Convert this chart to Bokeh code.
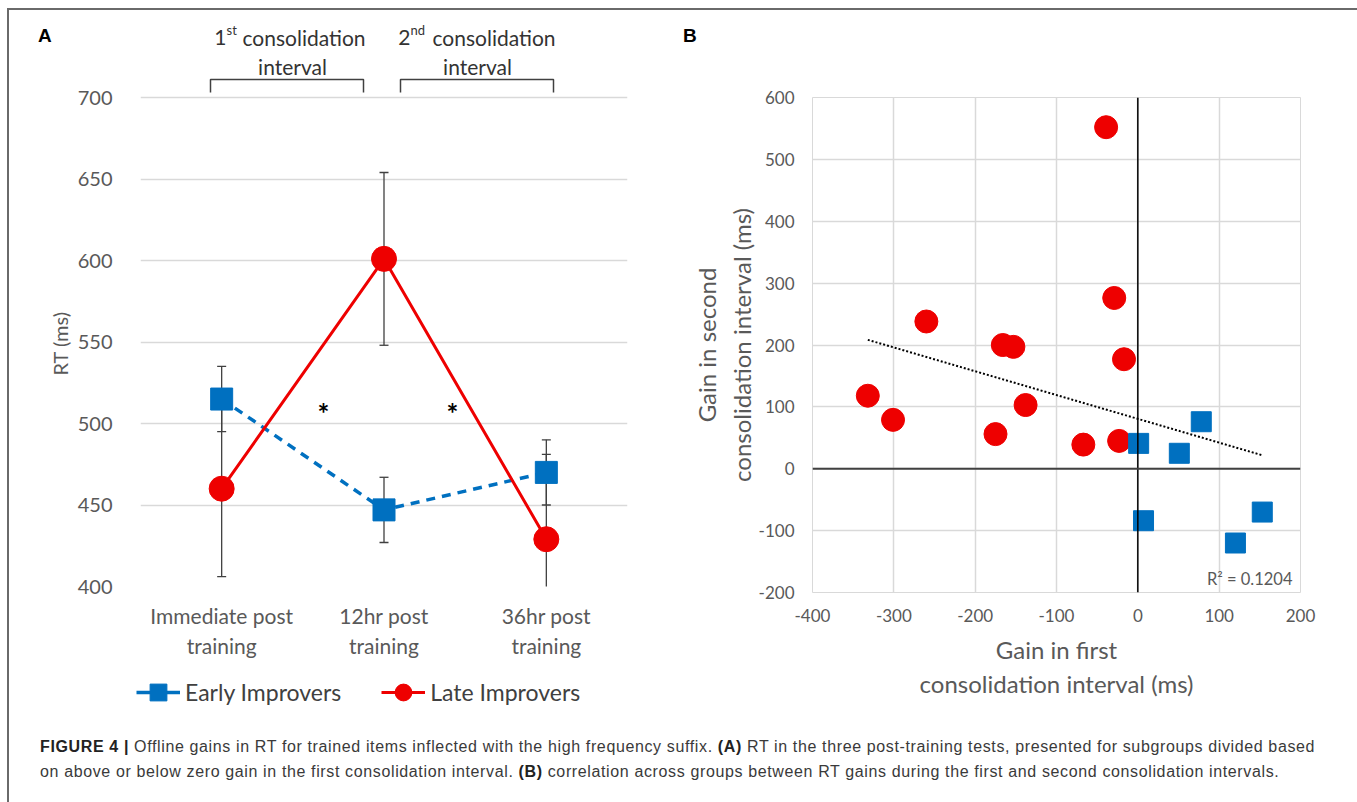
import numpy as np
from bokeh.plotting import figure
from bokeh.models import (Label, Span, Legend, LegendItem, FixedTicker, Range1d, Div, Title)
from bokeh.layouts import row, column
from bokeh.embed import file_html
from bokeh.resources import INLINE

# ---------------- Panel A data ----------------
sessions = ["Immediate post\ntraining", "12hr post\ntraining", "36hr post\ntraining"]
early_rt = [515, 447, 470]
early_err = [20, 20, 20]
late_rt = [460, 601, 429]
late_err = [54, 53, 52]
a_yticks = [400, 450, 500, 550, 600, 650, 700]
series_names = ["Early Improvers", "Late Improvers"]

# ---------------- Panel B data ----------------
late_gain1 = [-39, -29, -260, -166, -153, -17, -332, -301, -138, -175, -67, -23]
late_gain2 = [552, 276, 238, 200, 197, 177, 118, 79, 103, 56, 39, 45]
early_gain1 = [1, 51, 78, 7, 120, 153]
early_gain2 = [41, 25, 76, -84, -120, -70]
b_xticks = [-400, -300, -200, -100, 0, 100, 200]
b_yticks = [-200, -100, 0, 100, 200, 300, 400, 500, 600]
r2_text = "R² = 0.1204"

RED = "#ee0000"
BLUE = "#0070c0"
GRID = "#d9d9d9"
TXT = "#595959"
FONT = "Lato"

# page geometry (image px): container inner area starts at (9, 10)
OX, OY = 9, 10

# ================= Panel A =================
WA, HA = 672, 695
LA, RA, TA, BA = 131, 54, 10, 119
fw_a = WA - LA - RA
fh_a = HA - TA - BA
A_FL = OX + LA            # frame left in image px
A_FB = OY + HA - BA       # frame bottom in image px
a_pxu = 489.0 / 300.0     # px per RT unit
a_top = 400 + fh_a / a_pxu

pa = figure(width=WA, height=HA, x_range=Range1d(0, 3), y_range=Range1d(400, a_top),
            output_backend="svg", toolbar_location=None,
            min_border_left=LA, min_border_right=RA, min_border_top=TA, min_border_bottom=BA)
pa.outline_line_color = None
pa.xgrid.grid_line_color = None
pa.ygrid.grid_line_color = GRID
pa.ygrid.grid_line_width = 1.6
pa.yaxis.ticker = FixedTicker(ticks=a_yticks)
xpos = [i + 0.5 for i in range(len(sessions))]
pa.xaxis.ticker = FixedTicker(ticks=xpos)
pa.xaxis.major_label_overrides = {x: s for x, s in zip(xpos, sessions)}
for ax in (pa.xaxis[0], pa.yaxis[0]):
    ax.axis_line_color = None
    ax.major_tick_line_color = None
    ax.minor_tick_line_color = None
    ax.major_label_text_font = FONT
    ax.major_label_text_color = TXT
pa.xaxis.major_label_text_font_size = "21px"
pa.yaxis.major_label_text_font_size = "20px"
pa.xaxis.major_label_standoff = 10
pa.yaxis.major_label_standoff = 22

# y-axis title of panel A, centred on the 400-700 span (not on the taller frame)
rt_title = Title(text="RT (ms)", align="left", offset=A_FB - 375, standoff=6,
                 text_font=FONT, text_font_size="20px", text_font_style="normal",
                 text_color=TXT)
pa.add_layout(rt_title, "left")

def ax_(px):
    return (px - A_FL) * 3.0 / fw_a

def ay_(py):
    return 400 + (A_FB - py) / a_pxu

# error bars
e_lo = [v - e for v, e in zip(early_rt, early_err)]
e_hi = [v + e for v, e in zip(early_rt, early_err)]
l_lo = [v - e for v, e in zip(late_rt, late_err)]
l_hi = [v + e for v, e in zip(late_rt, late_err)]
for lo, hi in ((l_lo, l_hi), (e_lo, e_hi)):
    pa.segment(x0=xpos, y0=lo, x1=xpos, y1=hi, line_color="#404040", line_width=1.3)
    pa.scatter(xpos, hi, marker="dash", size=9, line_color="#404040", line_width=1.3)
    pa.scatter(xpos, lo, marker="dash", size=9, line_color="#404040", line_width=1.3)

EARLY_LINE = dict(line_color=BLUE, line_width=3.5)
LATE_LINE = dict(line_color=RED, line_width=3)
pa.line(xpos, early_rt, line_dash="9 7", **EARLY_LINE)
pa.line(xpos, late_rt, **LATE_LINE)
pa.scatter(xpos, early_rt, marker="square", size=22, fill_color=BLUE, line_color=BLUE)
pa.scatter(xpos, late_rt, marker="circle", size=25, fill_color=RED, line_color=RED)

# header annotations
HDR = "#333333"
def lbl(p, x, y, text, size, align="left", color=HDR, font=FONT, style="normal"):
    p.add_layout(Label(x=x, y=y, text=text, text_font=font, text_font_size=size,
                       text_color=color, text_align=align, text_baseline="middle",
                       text_font_style=style))

lbl(pa, ax_(226), ay_(37), "1", "21px", "right")
lbl(pa, ax_(226), ay_(29), "st", "13px")
lbl(pa, ax_(242), ay_(37), "consolidation", "21px")
lbl(pa, ax_(292), ay_(66), "interval", "21px", "center")
lbl(pa, ax_(410), ay_(37), "2", "21px", "right")
lbl(pa, ax_(410), ay_(29), "nd", "13px")
lbl(pa, ax_(432), ay_(37), "consolidation", "21px")
lbl(pa, ax_(477), ay_(66), "interval", "21px", "center")
for x0, x1 in ((210, 363), (400, 553)):
    pa.line([ax_(x0), ax_(x0), ax_(x1), ax_(x1)], [ay_(92), ay_(79), ay_(79), ay_(92)],
            line_color="#404040", line_width=1.5)
lbl(pa, ax_(323), ay_(412), "*", "28px", "center", color="black", style="bold")
lbl(pa, ax_(452), ay_(412), "*", "28px", "center", color="black", style="bold")

# ---- legend of panel A (own small canvas, placed under panel A) ----
# the legend renderers carry the series data but lie outside this canvas' view
pleg = figure(width=480, height=50, output_backend="svg", toolbar_location=None,
              min_border=0, x_range=Range1d(-10, -9), y_range=Range1d(-10, -9),
              styles={"position": "absolute", "left": "127px", "top": "657px"})
pleg.axis.visible = False
pleg.grid.visible = False
pleg.outline_line_color = None
lg_el = pleg.line(xpos, early_rt, **EARLY_LINE)
lg_es = pleg.scatter(xpos, early_rt, marker="square", fill_color=BLUE, line_color=BLUE)
lg_ll = pleg.line(xpos, late_rt, **LATE_LINE)
lg_ls = pleg.scatter(xpos, late_rt, marker="circle", fill_color=RED, line_color=RED)
legend = Legend(items=[LegendItem(label=series_names[0], renderers=[lg_el, lg_es]),
                       LegendItem(label=series_names[1], renderers=[lg_ll, lg_ls])],
                location="left", orientation="horizontal",
                label_text_font=FONT, label_text_font_size="23px", label_text_color="#404040",
                glyph_width=44, glyph_height=42, spacing=40, label_standoff=5,
                padding=0, margin=0, border_line_color=None, background_fill_alpha=0)
pleg.add_layout(legend, "center")

# ================= Panel B =================
WB, HB = 673, 695
LB, RB, TB, BB = 131, 54, 87, 113
B_FL = OX + WA + LB
B_FB = OY + HB - BB
pb = figure(width=WB, height=HB, x_range=Range1d(-400, 200), y_range=Range1d(-200, 600),
            output_backend="svg", toolbar_location=None,
            min_border_left=LB, min_border_right=RB, min_border_top=TB, min_border_bottom=BB)
pb.outline_line_color = GRID
pb.grid.grid_line_color = GRID
pb.grid.grid_line_width = 1.5
pb.xaxis.ticker = FixedTicker(ticks=b_xticks)
pb.yaxis.ticker = FixedTicker(ticks=b_yticks)
pb.xaxis.major_label_overrides = {t: str(t) for t in b_xticks}
pb.yaxis.major_label_overrides = {t: str(t) for t in b_yticks}
for ax in (pb.xaxis[0], pb.yaxis[0]):
    ax.axis_line_color = None
    ax.major_tick_line_color = None
    ax.minor_tick_line_color = None
    ax.major_label_text_font = FONT
    ax.major_label_text_font_size = "17px"
    ax.major_label_text_color = TXT
    ax.axis_label_text_font = FONT
    ax.axis_label_text_font_size = "24px"
    ax.axis_label_text_font_style = "normal"
    ax.axis_label_text_color = TXT
pb.xaxis.major_label_standoff = 10
pb.yaxis.major_label_standoff = 12
pb.xaxis.axis_label = "Gain in first\nconsolidation interval (ms)"
pb.yaxis.axis_label = "Gain in second\nconsolidation interval (ms)"
pb.xaxis.axis_label_standoff = 10
pb.yaxis.axis_label_standoff = 0

pb.add_layout(Span(location=0, dimension="height", line_color="black", line_width=1.5))
pb.add_layout(Span(location=0, dimension="width", line_color="#404040", line_width=2))

gx = np.array(late_gain1 + early_gain1, dtype=float)
gy = np.array(late_gain2 + early_gain2, dtype=float)
slope, icpt = np.polyfit(gx, gy, 1)
tx = np.array([gx.min(), gx.max()])
pb.line(tx, slope * tx + icpt, line_color="black", line_width=2, line_dash="2 2")

pb.scatter(late_gain1, late_gain2, marker="circle", size=23, fill_color=RED, line_color=RED)
pb.scatter(early_gain1, early_gain2, marker="square", size=20, fill_color=BLUE, line_color=BLUE)

def bx_(px):
    return -400 + (px - B_FL) * 600.0 / (WB - LB - RB)

def by_(py):
    return -200 + (B_FB - py) * 800.0 / (HB - TB - BB)

lbl(pb, bx_(1292), by_(578), r2_text, "16.5px", "right", color=TXT)

# ================= panel letters =================
letter_style = {"position": "absolute", "font-family": "'Liberation Sans', Arial, sans-serif",
                "font-size": "19px", "font-weight": "bold", "color": "black"}
div_a = Div(text="A", width=20, height=24, styles=dict(letter_style, left="24px", top="7px"))
div_b = Div(text="B", width=20, height=24, styles=dict(letter_style, left="669px", top="7px"))

# ================= caption =================
cap_html = (
    '<div style="font-family:\'Liberation Sans\',Arial,sans-serif;font-size:16px;letter-spacing:0.63px;'
    'line-height:25px;color:#3a3a3a;padding:24px 0 0 26px;white-space:nowrap;">'
    '<b style="color:#222">FIGURE 4 |</b> Offline gains in RT for trained items inflected with the '
    'high frequency suffix. <b style="color:#222">(A)</b> RT in the three post-training tests, '
    'presented for subgroups divided based<br>on above or below zero gain in the first consolidation '
    'interval. <b style="color:#222">(B)</b> correlation across groups between RT gains during the '
    'first and second consolidation intervals.</div>'
)
caption = Div(text=cap_html, width=WA + WB, height=92)

layout = column(row(column(pa), column(pb)), caption, div_a, div_b, pleg,
                styles={"border-top": "2px solid #6a6a6a", "border-left": "2px solid #6a6a6a",
                        "border-right": "2px solid #6a6a6a", "background-color": "white",
                        "margin-left": "7px", "margin-top": "8px", "position": "relative"})

open("out.html", "w").write(file_html(layout, INLINE))
